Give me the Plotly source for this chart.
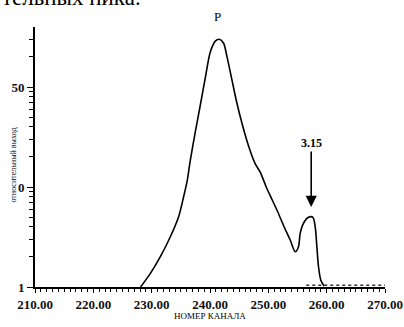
import math
import plotly.graph_objects as go

# Main spectrum curve (channel number vs relative yield, log scale)
channel = [228.1, 229.78, 231.49, 233.2, 234.62, 235.48, 236.06, 236.63, 237.48, 238.34,
           239.19, 240.05, 240.91, 241.59, 242.33, 242.91, 243.77, 244.62, 245.48, 246.61,
           247.76, 248.61, 249.64, 250.67, 251.7, 252.72, 253.75, 254.61, 255.17, 255.46,
           256.03, 256.88, 257.64, 258.03, 258.32, 258.6, 259.0, 259.57]
yield_rel = [1.0, 1.37, 2.01, 3.18, 5.05, 8.0, 11.3, 18.6, 35.5, 66.1,
             123, 224, 288, 300, 274, 201, 117, 68.7, 43.4, 25.7,
             17.0, 14.1, 10.0, 7.41, 5.5, 3.98, 2.95, 2.25, 2.53, 3.44,
             4.34, 4.98, 4.98, 4.01, 2.53, 1.6, 1.17, 1.02]

# Background tail
tail_channel = [256.5, 270.0]
tail_yield = [1.04, 1.04]

# Tick labels
x_tickvals = [210, 220, 230, 240, 250, 260, 270]
x_ticktext = ["210.00", "220.00", "230.00", "240.00", "250.00", "260.00", "270.00"]
y_tickvals = [1, 10, 100]
y_ticktext = ["1", "0", "50"]
y_minor = [2, 3, 4, 5, 6, 7, 8, 9, 20, 30, 40, 50, 60, 70, 80, 90, 200, 300]
x_minor = list(range(210, 271))

# Annotation texts / anchors
peak_label = "P"
arrow_label = "3.15"
arrow_channel = 257.35
arrow_yield = 6.3

W, H = 404, 327
L, R, T, B = 34.5, 19, 27, 40
pw, ph = W - L - R, H - T - B

def px_x(p):
    return (p - L) / pw

def px_y(p):
    return (H - B - p) / ph

fig = go.Figure()
fig.add_trace(go.Scatter(x=channel, y=yield_rel, mode="lines",
                         line=dict(color="black", width=1.6, shape="spline", smoothing=0.8),
                         showlegend=False, cliponaxis=False, hoverinfo="skip"))
fig.add_trace(go.Scatter(x=tail_channel, y=tail_yield, mode="lines",
                         line=dict(color="#333", width=1.4, dash="dot"),
                         showlegend=False, cliponaxis=False, hoverinfo="skip"))

serif = "Liberation Serif, Times New Roman, serif"

fig.update_layout(
    width=W, height=H,
    margin=dict(l=L, r=R, t=T, b=B, pad=0, autoexpand=False),
    paper_bgcolor="white", plot_bgcolor="white",
    font=dict(family=serif, color="black"),
    xaxis=dict(range=[210, 270], showgrid=False, zeroline=False, automargin=False,
               showline=True, linecolor="black", linewidth=2,
               tickmode="array", tickvals=x_tickvals, ticktext=x_ticktext,
               ticks="outside", ticklen=4, tickwidth=1, tickcolor="black",
               tickfont=dict(family=serif, size=13, color="#111", weight="bold"),
               minor=dict(tickmode="array", tickvals=x_minor, ticks="outside",
                          ticklen=3, tickwidth=1, tickcolor="black")),
    yaxis=dict(type="log", range=[0, 2.6], showgrid=False, zeroline=False, automargin=False,
               showline=True, linecolor="black", linewidth=2,
               tickmode="array", tickvals=y_tickvals, ticktext=y_ticktext,
               ticks="outside", ticklen=6, tickwidth=1, tickcolor="black",
               tickfont=dict(family=serif, size=13, color="#111", weight="bold"),
               minor=dict(tickmode="array", tickvals=y_minor, ticks="outside",
                          ticklen=4, tickwidth=1, tickcolor="black")),
)

fig.add_annotation(x=px_x(217), y=px_y(17), xref="paper", yref="paper",
                   xanchor="center", yanchor="middle", text=peak_label,
                   showarrow=False, font=dict(family=serif, size=13))
fig.add_annotation(x=arrow_channel, y=math.log10(arrow_yield), xref="x", yref="y",
                   text="<b>" + arrow_label + "</b>", showarrow=True, ax=0, ay=-64,
                   arrowhead=2, arrowsize=1.4, arrowwidth=1.6, arrowcolor="black",
                   font=dict(family=serif, size=12))
fig.add_annotation(x=px_x(12), y=px_y(165), xref="paper", yref="paper",
                   xanchor="center", yanchor="middle",
                   text="относительный выход", textangle=-90, showarrow=False,
                   font=dict(family=serif, size=8))
fig.add_annotation(x=px_x(210), y=px_y(316), xref="paper", yref="paper",
                   xanchor="center", yanchor="middle",
                   text="НОМЕР КАНАЛА", showarrow=False,
                   font=dict(family=serif, size=9))
fig.add_annotation(x=px_x(-1), y=px_y(-2.5), xref="paper", yref="paper",
                   xanchor="left", yanchor="middle",
                   text="тельных пика.", showarrow=False,
                   font=dict(family=serif, size=23))

fig.write_html("out.html",
               config={"displayModeBar": False},
               post_script="document.body.style.margin='0';document.body.style.overflow='hidden';")
